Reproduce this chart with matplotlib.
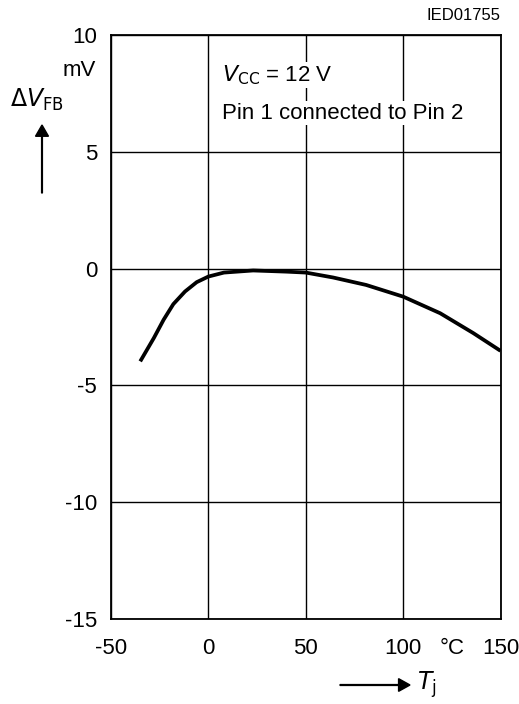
import matplotlib
matplotlib.use("Agg")
import matplotlib.pyplot as plt

plt.rcParams['font.family'] = ['Liberation Sans', 'DejaVu Sans']

# curve
temp_c = [-35, -28, -23, -18, -12, -6, 0, 8, 23, 40, 50, 64, 81, 100, 119, 136, 150]
delta_vfb = [-3.97, -2.97, -2.19, -1.52, -0.98, -0.58, -0.34, -0.17, -0.08,
             -0.13, -0.17, -0.38, -0.70, -1.20, -1.91, -2.76, -3.52]

x_ticks = [-50, 0, 50, 100, 150]
x_labels = ['-50', '0', '50', '100', '150']
y_ticks = [-15, -10, -5, 0, 5, 10]
y_labels = ['-15', '-10', '-5', '0', '5', '10']

fig = plt.figure(figsize=(5.19, 7.04), dpi=100)
ax = fig.add_axes([0.2139, 0.1207, 0.7505, 0.8296])

ax.plot(temp_c, delta_vfb, color='black', lw=2.7, solid_capstyle='butt',
        solid_joinstyle='round', zorder=3)

ax.set_xlim(-50, 150)
ax.set_ylim(-15, 10)
ax.set_xticks(x_ticks)
ax.set_xticklabels(x_labels)
ax.set_yticks(y_ticks)
ax.set_yticklabels(y_labels)
ax.tick_params(axis='x', length=0, labelsize=16, pad=14)
ax.tick_params(axis='y', length=0, labelsize=16, pad=10)
ax.grid(True, color='black', lw=1.0)
for s in ax.spines.values():
    s.set_linewidth(1.3)

# annotations with white box over the grid
ax.text(7, 8.3, r'$\mathit{V}_{\mathrm{CC}}$ = 12 V', fontsize=16, va='center',
        bbox=dict(facecolor='white', edgecolor='none', pad=1), zorder=4)
ax.text(7, 6.65, 'Pin 1 connected to Pin 2', fontsize=16, va='center',
        bbox=dict(facecolor='white', edgecolor='none', pad=1), zorder=4)

fig.text(500 / 519, 1 - 15 / 704, 'IED01755', fontsize=12, ha='right', va='center')
fig.text(96 / 519, 1 - 71 / 704, 'mV', fontsize=16, ha='right', va='center')
fig.text(10 / 519, 1 - 100 / 704, r'$\Delta\mathit{V}_{\mathrm{FB}}$', fontsize=17,
         ha='left', va='center')
fig.text(452 / 519, 1 - 649 / 704, '°C', fontsize=16, ha='center', va='center')
fig.text(417 / 519, 1 - 685 / 704, r'$\mathit{T}_{\mathrm{j}}$', fontsize=17,
         ha='left', va='center')

fig.patches.append(matplotlib.patches.FancyArrow(
    42 / 519, 1 - 193 / 704, 0, (193 - 125) / 704, width=0.0015,
    head_width=0.025, head_length=0.016, length_includes_head=True,
    color='black', transform=fig.transFigure))
fig.patches.append(matplotlib.patches.FancyArrow(
    340 / 519, 1 - 685 / 704, (410 - 340) / 519, 0, width=0.0012,
    head_width=0.018, head_length=0.022, length_includes_head=True,
    color='black', transform=fig.transFigure))

fig.savefig('out.png', dpi=100, facecolor='white')
